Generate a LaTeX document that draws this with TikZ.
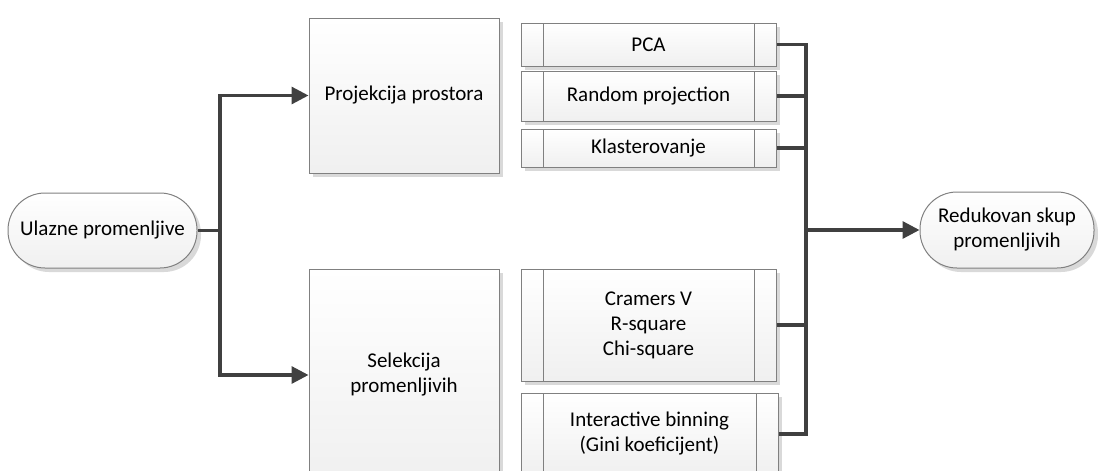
\documentclass[tikz,border=0pt]{standalone}
\usepackage{fontspec}
\setmainfont{Carlito}
\usetikzlibrary{arrows.meta,shadows,positioning}
\definecolor{linec}{HTML}{404040}
\definecolor{boxb}{HTML}{808080}
\tikzset{
  base/.style={draw=boxb, line width=1pt, top color=white, bottom color=black!6,
    drop shadow={shadow xshift=4pt, shadow yshift=-4pt, fill=black!15, opacity=1},
    align=center, font=\fontsize{21}{25}\selectfont, inner sep=0pt},
  procbox/.style={base, minimum width=190pt},
  subbox/.style={base, minimum width=255pt,
    path picture={\draw[boxb, line width=1pt]
      ([xshift=22pt]path picture bounding box.north west) -- ([xshift=22pt]path picture bounding box.south west)
      ([xshift=-22pt]path picture bounding box.north east) -- ([xshift=-22pt]path picture bounding box.south east);}},
  term/.style={base, rounded corners=37pt},
  conn/.style={draw=linec, line width=3.2pt},
  arr/.style={conn, -{Triangle[length=17pt,width=17pt]}},
}
\begin{document}
\begin{tikzpicture}[x=1pt,y=-1pt]
\useasboundingbox (0,0) rectangle (1098,471);
\node[term, minimum width=189pt, minimum height=75pt] (ul) at (102.5,230.5) {Ulazne promenljive};
\node[procbox, minimum height=155pt] (proj) at (404,95.5) {Projekcija prostora};
\node[procbox, minimum height=212pt] (sel) at (404,375) {Selekcija\\promenljivih};
\node[subbox, minimum height=43pt] (pca) at (648.5,44.5) {PCA};
\node[subbox, minimum height=50pt] (rp) at (648.5,96) {Random projection};
\node[subbox, minimum height=38pt] (kl) at (648.5,148) {Klasterovanje};
\node[subbox, minimum height=112pt] (cr) at (648.5,325) {Cramers V\\R-square\\Chi-square};
\node[subbox, minimum width=257pt, minimum height=82pt] (ib) at (649.5,434) {Interactive binning\\(Gini koeficijent)};
\node[term, minimum width=174pt, minimum height=76pt] (red) at (1007,230) {Redukovan skup\\promenljivih};
\coordinate (jl) at (220,230.5);
\coordinate (bt) at (806,44.5);
\coordinate (bb) at (806,434);
\draw[conn] (ul.east) -- (jl);
\draw[arr] (jl) |- (proj.west);
\draw[arr] (jl) |- (sel.west);
\draw[conn] (pca.east) -- (bt) -- (bb) -- (ib.east);
\draw[conn] (rp.east) -- (rp.east -| bt);
\draw[conn] (kl.east) -- (kl.east -| bt);
\draw[conn] (cr.east) -- (cr.east -| bt);
\draw[arr] (bt |- red.west) -- (red.west);
\end{tikzpicture}
\end{document}
